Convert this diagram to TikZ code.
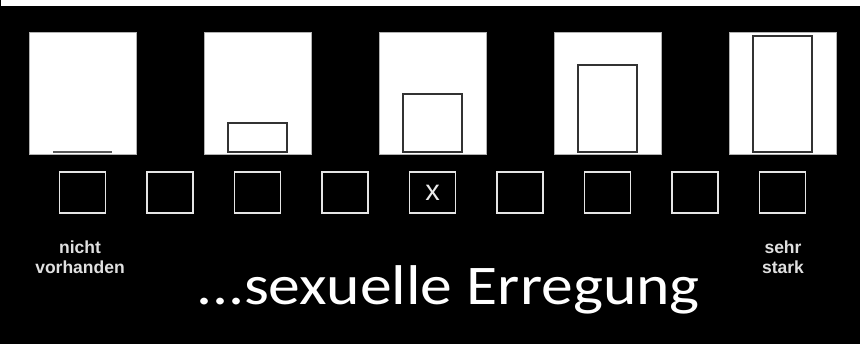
\documentclass[tikz,border=0pt]{standalone}
\usepackage{fontspec}
\usetikzlibrary{calc}
\newfontfamily\labelfont{Liberation Sans}
\newfontfamily\titlefont{Carlito}

\tikzset{
  panel/.style={draw=gray!60, fill=white, line width=0.8pt, inner sep=0pt,
    minimum width=107pt, minimum height=122pt, anchor=north west},
  bar/.style={draw=black!80, line width=1.5pt},
  tickbox/.style={draw=white!90!black, line width=1.6pt, inner sep=0pt,
    minimum width=46pt, minimum height=41pt},
  sidelabel/.style={text=white!88!black, align=center, inner sep=0pt, anchor=north,
    font=\labelfont\bfseries\fontsize{17.5}{20}\selectfont},
}

\begin{document}
\begin{tikzpicture}[x=1pt, y=-1pt]
% background and top strip
\fill[black] (0,0) rectangle (860,344);
\useasboundingbox (0,0) rectangle (860,344);
\fill[white] (1,0) rectangle (860,6);

% five panels, growing bars
\foreach \i in {0,...,4} {
  \node[panel] (p\i) at (29+175*\i, 32) {};
  \ifnum\i=0
    \draw[bar, line width=2pt, draw=black!65] ($(p\i.south west)+(24,-3)$) -- ++(59,0);
  \else
    \draw[bar] ($(p\i.south west)+(24,-3)$) rectangle ++(59,-29*\i);
  \fi
}

% rating boxes
\foreach \j in {0,...,8}
  \node[tickbox] (c\j) at (82.5+87.5*\j, 192.5) {};
\node[text=white!92!black, font=\labelfont\fontsize{29}{29}\selectfont] (mark) at (c4) {x};

% scale ends
\node[sidelabel] (low) at (80, 240.5) {nicht\\vorhanden};
\node[sidelabel] (high) at (783, 240.5) {sehr\\stark};

\node[text=white, anchor=base, inner sep=0pt, xscale=1.136, transform shape,
  font=\titlefont\fontsize{56}{56}\selectfont]
  (title) at (448, 305) {...sexuelle Erregung};
\end{tikzpicture}
\end{document}
